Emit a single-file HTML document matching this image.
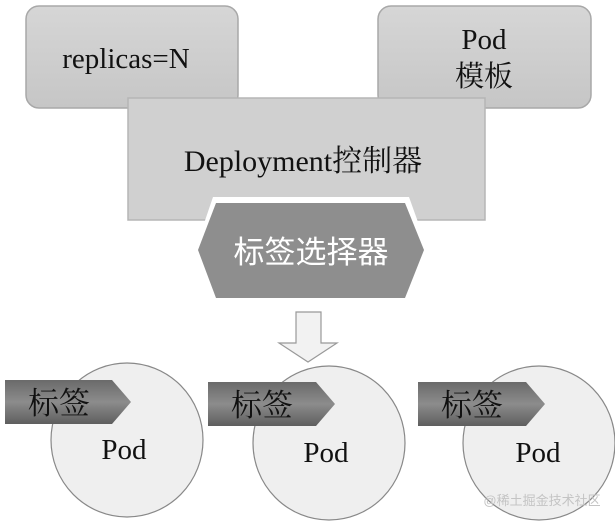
<!DOCTYPE html>
<html><head><meta charset="utf-8"><style>
html,body{margin:0;padding:0;background:#fff;}
text{font-family:"Liberation Serif","Noto Serif CJK SC","Noto Sans CJK SC",serif;}
text.s{font-family:"Noto Sans CJK SC","WenQuanYi Zen Hei",sans-serif;}
text.w{font-family:"Liberation Sans","Noto Sans CJK SC",sans-serif;}
</style></head><body>
<svg width="615" height="523" viewBox="0 0 615 523" xmlns="http://www.w3.org/2000/svg" style="display:block">
<defs>
<linearGradient id="g1" x1="0" y1="0" x2="0" y2="1"><stop offset="0" stop-color="#d6d6d6"/><stop offset="1" stop-color="#c6c6c6"/></linearGradient>
<linearGradient id="tg" x1="0" y1="0" x2="0" y2="1"><stop offset="0" stop-color="#6a6a6a"/><stop offset="0.5" stop-color="#8c8c8c"/><stop offset="1" stop-color="#5e5e5e"/></linearGradient>
</defs>
<g fill="#111">
<rect x="26" y="6" width="212" height="102" rx="13" fill="url(#g1)" stroke="#a8a8a8" stroke-width="1.5"/>
<rect x="378" y="6" width="213" height="102" rx="13" fill="url(#g1)" stroke="#a8a8a8" stroke-width="1.5"/>
<text x="126" y="68" font-size="29" text-anchor="middle">replicas=N</text>
<text x="484" y="49" font-size="29" text-anchor="middle">Pod</text>
<text x="484" y="86" font-size="29" text-anchor="middle">模板</text>
<rect x="128" y="98" width="357" height="122" fill="#d0d0d0" stroke="#b5b5b5" stroke-width="1.5"/>
<text x="303" y="171" font-size="30" text-anchor="middle">Deployment控制器</text>
<polygon points="213,197 409,197 428,250 409,300 213,300 195,250" fill="#fff"/>
<polygon points="216,203 405,203 424,250 405,298 216,298 198,250" fill="#8e8e8e"/>
<text class="s" x="311" y="263" font-size="31" fill="#fff" text-anchor="middle">标签选择器</text>
<polygon points="296,312 321,312 321,343 337,343 308,362 279,343 296,343" fill="#f2f2f2" stroke="#999" stroke-width="1.2"/>
<ellipse cx="127" cy="440" rx="76" ry="77" fill="#efefef" stroke="#888" stroke-width="1.2"/>
<ellipse cx="329" cy="443" rx="76" ry="77" fill="#efefef" stroke="#888" stroke-width="1.2"/>
<ellipse cx="539" cy="443" rx="76" ry="77" fill="#efefef" stroke="#888" stroke-width="1.2"/>
<polygon points="5,380 112,380 131,402 112,424 5,424" fill="url(#tg)"/>
<polygon points="208,382 316,382 335,404 316,426 208,426" fill="url(#tg)"/>
<polygon points="418,382 526,382 545,404 526,426 418,426" fill="url(#tg)"/>
<text x="59" y="414" font-size="31" text-anchor="middle">标签</text>
<text x="262" y="416" font-size="31" text-anchor="middle">标签</text>
<text x="472" y="416" font-size="31" text-anchor="middle">标签</text>
<text x="124" y="459" font-size="29" text-anchor="middle">Pod</text>
<text x="326" y="462" font-size="29" text-anchor="middle">Pod</text>
<text x="538" y="462" font-size="29" text-anchor="middle">Pod</text>
<text class="w" x="542" y="505" font-size="13" fill="#c4c4c4" text-anchor="middle">@稀土掘金技术社区</text>
</g>
</svg>
</body></html>
